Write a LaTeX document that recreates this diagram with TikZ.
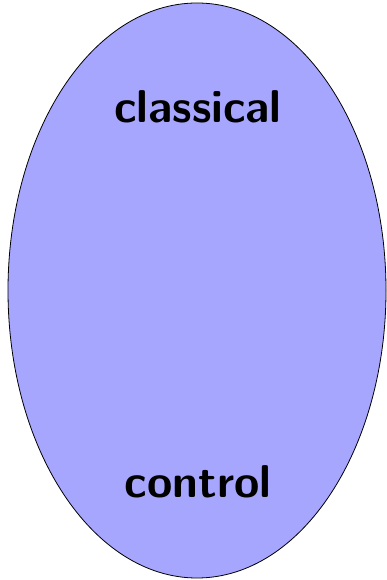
\documentclass[tikz,border=0pt]{standalone}
\usepackage{tikz}
\usetikzlibrary{shapes.geometric,positioning}
\definecolor{blobfill}{HTML}{A6A6FF}
\tikzset{
  blob/.style={ellipse, draw=black, fill=blobfill, line width=0.8pt, inner sep=0pt},
  word/.style={font=\sffamily\bfseries\fontsize{46}{50}\selectfont, anchor=base, inner sep=0pt},
}
\begin{document}
\begin{tikzpicture}[x=1pt,y=1pt]
  \useasboundingbox (0,0) rectangle (387,580);
  \node[blob, minimum width=378pt, minimum height=575pt] (oval) at (197,289.5) {};
  \node[word] (top) at (198,457) {classical};
  \node[word] (bot) at (198,82) {control};
\end{tikzpicture}
\end{document}
